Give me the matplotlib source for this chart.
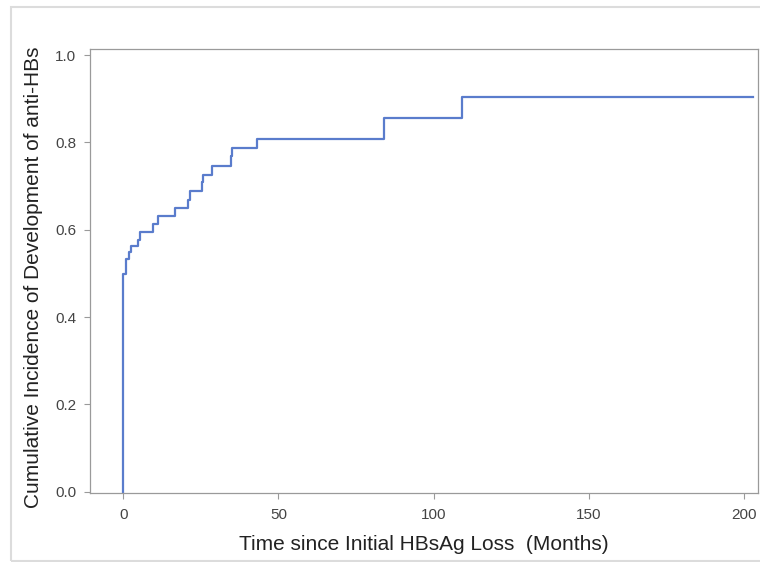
import numpy as np
import matplotlib.pyplot as plt
from matplotlib.patches import Rectangle

# Step times (months) and cumulative incidence
event_times = [0.0, 0.0, 0.9, 1.9, 2.5, 4.7, 5.4, 9.7, 11.1, 16.7, 21.0, 21.5,
               25.3, 25.8, 28.5, 34.6, 35.0, 43.0, 84.0, 109.0]
cum_incidence = [0.0, 0.499, 0.532, 0.548, 0.562, 0.577, 0.595, 0.613, 0.632,
                 0.650, 0.668, 0.689, 0.709, 0.725, 0.745, 0.768, 0.787, 0.808,
                 0.857, 0.905]
last_followup = 202.8

x_ticks = [0, 50, 100, 150, 200]
y_ticks = [0.0, 0.2, 0.4, 0.6, 0.8, 1.0]

plt.rcParams['font.family'] = ['Liberation Sans', 'DejaVu Sans']

fig = plt.figure(figsize=(7.6, 5.62), dpi=100)
# light outer frame around the graph
fig.patches.append(Rectangle((11 / 760, 1 / 562), 760 / 760, 554 / 562,
                             transform=fig.transFigure, fill=False,
                             edgecolor='#dcdcdc', linewidth=1.5))

ax = fig.add_axes([90 / 760, 69 / 562, 668 / 760, 444 / 562])

t = event_times + [last_followup]
y = cum_incidence + [cum_incidence[-1]]
ax.step(t, y, where='post', color='#5a7ccc', linewidth=1.6)

ax.set_xlim(-10.7, 204.5)
ax.set_ylim(-0.003, 1.014)
ax.set_xticks(x_ticks)
ax.set_yticks(y_ticks)
ax.set_yticklabels([f'{v:.1f}' for v in y_ticks])

for s in ax.spines.values():
    s.set_color('#9a9a9a')
    s.set_linewidth(0.9)
ax.tick_params(direction='out', length=4, width=0.8, color='#9a9a9a',
               labelcolor='#444444', labelsize=11)
ax.tick_params(axis='x', pad=7)
ax.tick_params(axis='y', pad=6)

ax.set_xlabel('Time since Initial HBsAg Loss  (Months)', fontsize=15,
              color='#222222', labelpad=9)
ax.set_ylabel('Cumulative Incidence of Development of anti-HBs', fontsize=15,
              color='#222222')
ax.yaxis.set_label_coords(-0.071, 0.486)

fig.savefig('out.png', dpi=100)
